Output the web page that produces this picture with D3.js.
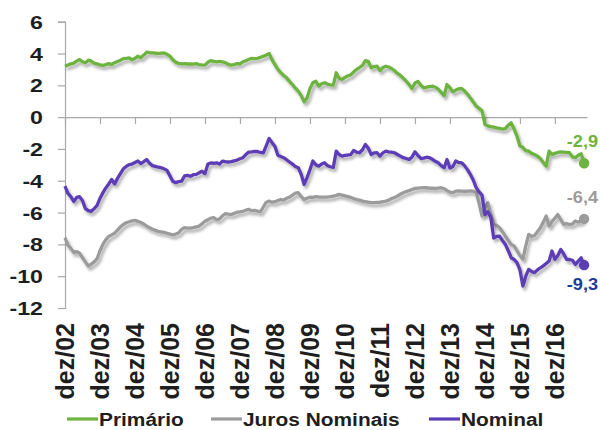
<!DOCTYPE html>
<html>
<head>
<meta charset="utf-8">
<script src="https://cdn.jsdelivr.net/npm/d3@7"></script>
<style>
  html, body { margin: 0; padding: 0; background: #fff; }
  svg { display: block; font-family: "Liberation Sans", Arial, sans-serif; font-weight: bold; }
</style>
</head>
<body>
<svg id="chart" width="600" height="430"></svg>
<script>
// Monthly series, % of GDP, from dez/02 to out/17
const startMonth = new Date(2002, 11, 1);
const endMonth = new Date(2017, 10, 1);
const months = d3.timeMonth.range(startMonth, endMonth);

const primario = [
  3.20,3.28,3.35,3.40,3.52,3.62,3.48,3.42,3.58,3.52,3.40,3.35,
  3.28,3.25,3.30,3.36,3.30,3.42,3.50,3.58,3.68,3.70,3.72,3.60,
  3.70,3.83,3.74,3.90,4.08,4.05,4.04,4.02,4.00,4.03,4.04,3.95,
  3.83,3.60,3.45,3.38,3.35,3.36,3.34,3.35,3.33,3.36,3.30,3.28,
  3.27,3.45,3.55,3.50,3.48,3.50,3.48,3.42,3.32,3.27,3.30,3.36,
  3.34,3.48,3.55,3.62,3.70,3.68,3.70,3.76,3.83,3.90,4.00,3.60,
  3.30,3.00,2.80,2.62,2.47,2.25,2.05,1.82,1.63,1.35,0.96,1.20,
  1.80,2.16,2.26,1.95,2.10,2.16,2.08,2.03,2.01,2.79,2.45,2.37,
  2.50,2.60,2.66,2.85,3.00,3.12,3.25,3.55,3.50,3.10,3.18,3.20,
  2.93,3.12,3.20,3.15,3.06,2.92,2.75,2.62,2.45,2.26,2.05,1.80,
  2.15,2.25,2.00,1.84,1.88,1.92,1.95,1.88,1.76,1.55,1.36,2.05,
  1.85,1.59,1.70,1.78,1.80,1.65,1.45,1.21,0.95,0.70,0.55,0.40,
  -0.46,-0.55,-0.60,-0.62,-0.67,-0.70,-0.75,-0.72,-0.50,-0.36,-0.75,-1.20,
  -1.82,-1.90,-2.10,-2.14,-2.28,-2.35,-2.45,-2.60,-2.85,-3.08,-2.14,-2.35,
  -2.28,-2.22,-2.18,-2.20,-2.22,-2.24,-2.50,-2.55,-2.40,-2.30,-2.90
];

const jurosNominais = [
  -7.58,-8.05,-8.25,-8.50,-8.45,-8.55,-8.84,-9.10,-9.36,-9.25,-9.10,-8.90,
  -8.40,-8.00,-7.70,-7.50,-7.40,-7.30,-7.10,-6.90,-6.75,-6.64,-6.58,-6.52,
  -6.49,-6.55,-6.62,-6.72,-6.85,-6.95,-7.05,-7.12,-7.18,-7.22,-7.25,-7.30,
  -7.35,-7.40,-7.35,-7.27,-7.05,-6.95,-6.98,-6.97,-6.95,-6.90,-6.85,-6.70,
  -6.55,-6.45,-6.35,-6.32,-6.45,-6.40,-6.20,-6.07,-6.10,-6.12,-6.05,-5.98,
  -5.95,-5.92,-5.85,-5.80,-5.88,-5.86,-5.91,-5.95,-5.65,-5.35,-5.28,-5.35,
  -5.32,-5.25,-5.18,-5.22,-5.10,-5.03,-4.90,-4.78,-4.75,-5.00,-5.18,-5.10,
  -5.03,-5.05,-5.00,-5.02,-5.03,-5.03,-5.02,-5.00,-4.96,-4.92,-4.86,-4.90,
  -4.95,-5.00,-5.05,-5.12,-5.18,-5.22,-5.28,-5.32,-5.35,-5.37,-5.38,-5.36,
  -5.35,-5.32,-5.28,-5.22,-5.12,-5.05,-4.96,-4.85,-4.75,-4.68,-4.62,-4.55,
  -4.48,-4.46,-4.45,-4.44,-4.44,-4.46,-4.47,-4.48,-4.46,-4.44,-4.50,-4.62,
  -4.72,-4.75,-4.65,-4.64,-4.65,-4.66,-4.65,-4.64,-4.65,-4.75,-5.40,-6.22,
  -5.70,-5.38,-6.10,-6.74,-6.80,-6.95,-7.20,-7.48,-7.75,-8.00,-8.10,-8.40,
  -8.70,-8.94,-8.10,-7.37,-7.50,-7.45,-7.20,-6.95,-6.60,-6.22,-6.85,-6.55,
  -6.35,-6.12,-6.45,-6.74,-6.70,-6.74,-6.72,-6.53,-6.60,-6.55,-6.40
];

const nominal = [
  -4.34,-4.80,-5.00,-5.30,-5.05,-5.00,-5.25,-5.75,-5.88,-5.92,-5.75,-5.55,
  -5.10,-4.75,-4.45,-4.20,-3.92,-4.20,-3.85,-3.55,-3.25,-3.10,-2.98,-2.95,
  -2.85,-2.76,-2.92,-2.80,-2.66,-2.90,-3.05,-3.10,-3.15,-3.18,-3.25,-3.35,
  -3.70,-4.05,-4.12,-4.05,-4.02,-3.70,-3.66,-3.72,-3.62,-3.60,-3.50,-3.40,
  -3.55,-2.95,-2.88,-2.90,-2.87,-2.95,-2.76,-2.80,-2.82,-2.80,-2.75,-2.70,
  -2.62,-2.55,-2.35,-2.20,-2.18,-2.15,-2.16,-2.22,-2.24,-1.80,-1.34,-1.60,
  -1.85,-2.40,-2.48,-2.55,-2.68,-2.82,-2.95,-3.10,-3.18,-3.60,-4.23,-3.80,
  -3.30,-2.76,-3.00,-3.08,-2.95,-2.87,-3.05,-3.12,-3.16,-2.14,-2.35,-2.45,
  -2.40,-2.38,-2.35,-2.09,-2.20,-2.24,-2.05,-1.72,-1.95,-2.35,-2.25,-2.24,
  -2.45,-2.25,-2.14,-2.18,-2.20,-2.24,-2.35,-2.45,-2.55,-2.60,-2.66,-2.50,
  -2.18,-2.40,-2.60,-2.58,-2.52,-2.55,-2.65,-2.78,-2.87,-3.05,-3.18,-2.66,
  -3.20,-3.10,-2.76,-2.85,-2.87,-3.05,-3.30,-3.60,-3.95,-4.44,-4.70,-4.90,
  -6.12,-5.95,-6.30,-7.60,-7.50,-7.48,-7.75,-8.00,-8.40,-8.84,-8.95,-9.15,
  -9.60,-10.62,-10.00,-9.57,-9.70,-9.78,-9.60,-9.47,-9.35,-9.20,-9.05,-8.42,
  -8.94,-8.70,-8.32,-8.60,-8.94,-8.95,-9.00,-9.26,-9.05,-8.84,-9.30
];

const yTicks = [6, 4, 2, 0, -2, -4, -6, -8, -10, -12];
const xTickLabels = ["dez/02","dez/03","dez/04","dez/05","dez/06","dez/07","dez/08",
  "dez/09","dez/10","dez/11","dez/12","dez/13","dez/14","dez/15","dez/16"];
const seriesNames = ["Primário", "Juros Nominais", "Nominal"];
const endLabels = ["-2,9", "-6,4", "-9,3"];

const series = [
  { name: seriesNames[0], values: primario, color: "#6db33f", label: endLabels[0], labelColor: "#6db33f" },
  { name: seriesNames[1], values: jurosNominais, color: "#9b9b9b", label: endLabels[1], labelColor: "#9b9b9b" },
  { name: seriesNames[2], values: nominal, color: "#5b3db5", label: endLabels[2], labelColor: "#1f3c98" }
];

const svg = d3.select("#chart");

const x = d3.scaleLinear().domain([0, months.length]).range([65, 587]);
const y = d3.scaleLinear().domain([-12, 6]).range([308, 21.7]);

// soft drop shadow under the lines
const defs = svg.append("defs");
const f = defs.append("filter").attr("id", "shadow")
  .attr("x", "-5%").attr("y", "-5%").attr("width", "115%").attr("height", "130%");
f.append("feDropShadow").attr("dx", 2).attr("dy", 3).attr("stdDeviation", 1.4)
  .attr("flood-color", "#000").attr("flood-opacity", 0.32);

// helper: horizontally widened text
function wideText(g, tx, ty, str, size, sx, anchor, color) {
  return g.append("text")
    .attr("transform", `translate(${tx},${ty}) scale(${sx},1)`)
    .attr("text-anchor", anchor)
    .attr("font-size", size)
    .attr("fill", color)
    .text(str);
}

// y axis
const yAxis = svg.append("g").attr("transform", `translate(${x(0)},0)`)
  .call(d3.axisLeft(y).tickValues(yTicks).tickSize(7).tickFormat(""));
yAxis.selectAll("path, line").attr("stroke", "#a8a8a8").attr("stroke-width", 1.2);

const yLab = svg.append("g");
yTicks.forEach(t => {
  wideText(yLab, 43, y(t) + 7, String(t), 19, 1.22, "end", "#1e1e1e");
});

// x axis at zero line, a tick every december
const xTickIdx = xTickLabels.map((_, i) => i * 12);
const xAxis = svg.append("g").attr("transform", `translate(0,${y(0)})`)
  .call(d3.axisBottom(x).tickValues(xTickIdx).tickSize(7).tickFormat("").tickSizeOuter(0));
xAxis.selectAll("path, line").attr("stroke", "#a8a8a8").attr("stroke-width", 1.2);

// rotated category labels at the bottom
svg.append("g").selectAll("text").data(xTickIdx).join("text")
  .attr("transform", d => `translate(${x(d) + 9},323) rotate(-90)`)
  .attr("text-anchor", "end")
  .attr("font-size", 25)
  .attr("fill", "#1e1e1e")
  .text((d, i) => xTickLabels[i]);

// lines
const line = d3.line().x((d, i) => x(i)).y(d => y(d));
const linesG = svg.append("g");
series.forEach(s => {
  linesG.append("path")
    .datum(s.values)
    .attr("d", line)
    .attr("fill", "none")
    .attr("stroke", s.color)
    .attr("stroke-width", 3.3)
    .attr("stroke-linejoin", "round")
    .attr("filter", "url(#shadow)");
});

// end markers and value labels
const endG = svg.append("g");
series.forEach((s, k) => {
  const i = s.values.length - 1;
  const v = s.values[i];
  endG.append("circle").attr("cx", x(i)).attr("cy", y(v)).attr("r", 5.2).attr("fill", s.color);
  const ly = k === 2 ? y(v) + 25 : y(v) - 16;
  wideText(endG, 598, ly, s.label, 16.5, 1.1, "end", s.labelColor);
});

// legend
const legend = svg.append("g");
const legendPos = [67, 211, 429];
series.forEach((s, k) => {
  const lx = legendPos[k];
  legend.append("line")
    .attr("x1", lx).attr("x2", lx + 31)
    .attr("y1", 419).attr("y2", 419)
    .attr("stroke", s.color).attr("stroke-width", 3.2);
  wideText(legend, lx + 32, 425.5, s.name, 18.5, 1.13, "start", "#1e1e1e");
});
</script>
</body>
</html>
